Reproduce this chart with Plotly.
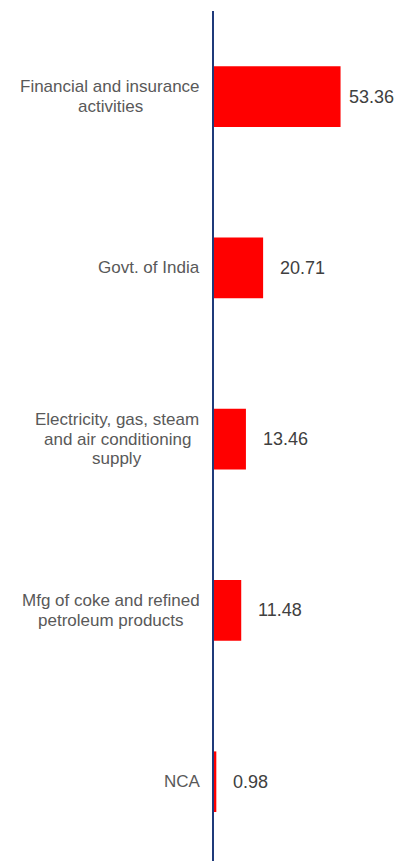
import plotly.graph_objects as go

categories = [
    "Financial and insurance<br>activities",
    "Govt. of India",
    "Electricity, gas, steam<br>and air conditioning<br>supply",
    "Mfg of coke and refined<br>petroleum products",
    "NCA",
]
values = [53.36, 20.71, 13.46, 11.48, 0.98]

FONT = "Liberation Sans, Arial, sans-serif"
CAT_SIZE = 17
VAL_SIZE = 18
LINE_H = 19.5          # px between wrapped label lines
CAT_GAP = 14           # px between label block and axis line
LABEL_GAP = 15         # px between bar end and value label
MAX_LABEL_RIGHT = 392  # px: value labels are kept left of this (page coords)

# Arial / Liberation Sans advance widths (1/1000 em) for width estimates
_W = {" ": 278, ",": 278, ".": 278, "a": 556, "b": 556, "c": 500, "d": 556,
      "e": 556, "f": 278, "g": 556, "h": 556, "i": 222, "j": 222, "k": 500,
      "l": 222, "m": 833, "n": 556, "o": 556, "p": 556, "q": 556, "r": 333,
      "s": 500, "t": 278, "u": 556, "v": 500, "w": 722, "x": 500, "y": 500,
      "z": 500, "A": 667, "C": 722, "E": 667, "F": 611, "G": 778, "I": 278,
      "M": 833, "N": 722}


def text_w(s, size):
    return sum(_W.get(ch, 556) for ch in s) * size / 1000


fig = go.Figure()
fig.add_trace(go.Bar(
    x=values,
    y=categories,
    orientation="h",
    marker=dict(color="#FF0000", line=dict(width=0)),
    width=0.354,
    hoverinfo="skip",
))

# category labels: centred block, right edge CAT_GAP px left of the axis
for c in categories:
    lines = c.split("<br>")
    n = len(lines)
    block_w = max(text_w(ln, CAT_SIZE) for ln in lines)
    for i, ln in enumerate(lines):
        fig.add_annotation(
            x=0, xref="paper", y=c, yref="y",
            text=ln, showarrow=False,
            xanchor="center", yanchor="middle",
            xshift=-(CAT_GAP + block_w / 2),
            yshift=((n - 1) / 2 - i) * LINE_H,
            font=dict(family=FONT, size=CAT_SIZE, color="#595959"),
        )

# value labels
plot_left, px_per_unit = 214, 199 / 83.9
for c, v in zip(categories, values):
    label = f"{v:.2f}"
    bar_end = plot_left + v * px_per_unit
    est_w = text_w(label, VAL_SIZE)
    shift = LABEL_GAP
    if bar_end + shift + est_w > MAX_LABEL_RIGHT:
        shift = max(6, MAX_LABEL_RIGHT - est_w - bar_end)
    fig.add_annotation(
        x=v, xref="x", y=c, yref="y",
        text=label, showarrow=False,
        xanchor="left", yanchor="middle",
        xshift=shift,
        font=dict(family=FONT, size=VAL_SIZE, color="#404040"),
    )

# page body has an 8px default margin, so the figure is sized to fit the window
fig.update_layout(
    width=405, height=853,
    margin=dict(l=206, r=0, t=3, b=0),
    paper_bgcolor="white", plot_bgcolor="white",
    showlegend=False,
    xaxis=dict(range=[0, 83.9], visible=False, fixedrange=True),
    yaxis=dict(
        type="category",
        range=[4.463, -0.5],
        showticklabels=False,
        showgrid=False, zeroline=False,
        showline=True, linecolor="#1F3A7A", linewidth=1.5,
        ticks="",
    ),
)

fig.write_html("out.html")
